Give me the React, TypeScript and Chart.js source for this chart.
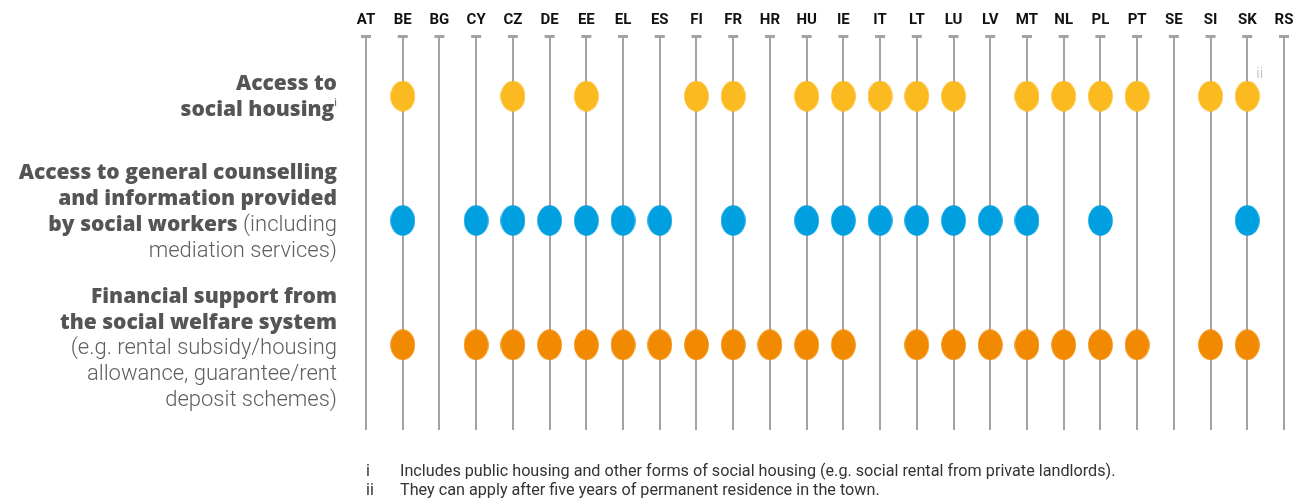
import { useEffect, useRef } from "react";
import { Chart, registerables } from "chart.js";

Chart.register(...registerables);

const countries = ["AT","BE","BG","CY","CZ","DE","EE","EL","ES","FI","FR","HR","HU","IE","IT","LT","LU","LV","MT","NL","PL","PT","SE","SI","SK","RS"];
const rowNames = ["Access to social housing", "Access to general counselling and information provided by social workers", "Financial support from the social welfare system"];
const socialHousing =    [0,1,0,0,1,0,1,0,0,1,1,0,1,1,1,1,1,0,1,1,1,1,0,1,1,0];
const counselling =      [0,1,0,1,1,1,1,1,1,0,1,0,1,1,1,1,1,1,1,0,1,0,0,0,1,0];
const financialSupport = [0,1,0,1,1,1,1,1,1,1,1,1,1,1,0,1,1,1,1,1,1,1,0,1,1,0];
const rowColors = ["#FBBA1F", "#009FDF", "#F18A00"];
const footnotes = [
  ["i", "Includes public housing and other forms of social housing (e.g. social rental from private landlords)."],
  ["ii", "They can apply after five years of permanent residence in the town."],
];

type Seg = { t: string; b?: boolean; sup?: boolean };
const rowLabelLines: Seg[][][] = [
  [
    [{ t: "Access to", b: true }],
    [{ t: "social housing", b: true }, { t: "i", sup: true }],
  ],
  [
    [{ t: "Access to general counselling", b: true }],
    [{ t: "and information provided", b: true }],
    [{ t: "by social workers", b: true }, { t: " (including" }],
    [{ t: "mediation services)" }],
  ],
  [
    [{ t: "Financial support from", b: true }],
    [{ t: "the social welfare system", b: true }],
    [{ t: "(e.g. rental subsidy/housing" }],
    [{ t: "allowance, guarantee/rent" }],
    [{ t: "deposit schemes)" }],
  ],
];
const rowFirstOffset = [-12, -47, -48];

const FONT = "Roboto, 'Open Sans', sans-serif";
const BOLD_FONT = "'Open Sans', Roboto, sans-serif";

function ellipse(color: string) {
  const c = document.createElement("canvas");
  c.width = 25;
  c.height = 31;
  const ctx = c.getContext("2d")!;
  ctx.fillStyle = color;
  ctx.beginPath();
  ctx.ellipse(12.5, 15.5, 12.3, 15.3, 0, 0, Math.PI * 2);
  ctx.fill();
  return c;
}

const annotations = {
  id: "annotations",
  beforeDatasetsDraw(chart: any) {
    const { ctx, scales, chartArea } = chart;
    const x = scales.x;
    ctx.save();
    ctx.fillStyle = "#a3a3a3";
    countries.forEach((_, i) => {
      const px = x.getPixelForValue(i);
      ctx.fillRect(px - 5, chartArea.top - 2, 10, 3);
    });
    ctx.restore();
  },
  afterDraw(chart: any) {
    const { ctx, scales } = chart;
    const y = scales.y;
    const x = scales.x;
    ctx.save();
    ctx.textBaseline = "middle";
    const right = 337;
    rowLabelLines.forEach((lines, r) => {
      const py = y.getPixelForValue(r);
      lines.forEach((segs, li) => {
        const ly = py + rowFirstOffset[r] + li * 25.9;
        const fonts = segs.map((s) =>
          s.sup ? `400 11px ${FONT}` : s.b ? `800 21px ${BOLD_FONT}` : `300 22px ${FONT}`
        );
        const widths = segs.map((s, k) => {
          ctx.font = fonts[k];
          return ctx.measureText(s.t).width;
        });
        let cx = right - widths.reduce((a, b) => a + b, 0);
        segs.forEach((s, k) => {
          ctx.font = fonts[k];
          ctx.fillStyle = s.b ? "#555555" : "#5e5e5e";
          ctx.textAlign = "left";
          ctx.fillText(s.t, cx, s.sup ? ly - 7 : ly);
          cx += widths[k];
        });
      });
    });
    // superscript near SK
    const skX = x.getPixelForValue(countries.indexOf("SK"));
    ctx.font = `300 15px ${FONT}`;
    ctx.fillStyle = "#b3b3b3";
    ctx.textAlign = "left";
    ctx.fillText("ii", skX + 9, y.getPixelForValue(0) - 22);
    // footnotes
    ctx.font = `400 16.2px ${FONT}`;
    ctx.fillStyle = "#333333";
    footnotes.forEach(([mark, text], i) => {
      const fy = 472 + i * 19;
      ctx.fillText(mark, 366, fy);
      ctx.fillText(text, 400, fy);
    });
    ctx.restore();
  },
};

export default function App() {
  const ref = useRef<HTMLCanvasElement>(null);
  useEffect(() => {
    document.body.style.margin = "0";
    const series = [socialHousing, counselling, financialSupport];
    const chart = new Chart(ref.current!, {
      type: "line",
      data: {
        labels: countries,
        datasets: series.map((arr, r) => ({
          label: rowNames[r],
          data: arr.map((v) => (v ? r : null)),
          showLine: false,
          pointStyle: ellipse(rowColors[r]),
          backgroundColor: rowColors[r],
          borderColor: rowColors[r],
        })),
      },
      options: {
        animation: false,
        responsive: false,
        devicePixelRatio: 1,
        layout: { padding: { left: 366, right: 10, top: 3, bottom: 70 } },
        plugins: { legend: { display: false }, tooltip: { enabled: false } },
        scales: {
          x: {
            type: "category",
            position: "top",
            offset: false,
            border: { display: false },
            grid: { color: "#a3a3a3", lineWidth: 2, drawTicks: false },
            afterFit: (scale: any) => {
              scale.paddingLeft = 0;
              scale.paddingRight = 0;
            },
            ticks: {
              autoSkip: false,
              maxRotation: 0,
              padding: 8,
              color: "#111111",
              font: { family: FONT, size: 15, weight: "bold" },
            },
          },
          y: {
            type: "linear",
            display: false,
            reverse: true,
            min: -0.476,
            max: 2.685,
          },
        },
      },
      plugins: [annotations],
    });
    return () => chart.destroy();
  }, []);
  return <canvas ref={ref} width={1294} height={500} style={{ display: "block" }} />;
}
